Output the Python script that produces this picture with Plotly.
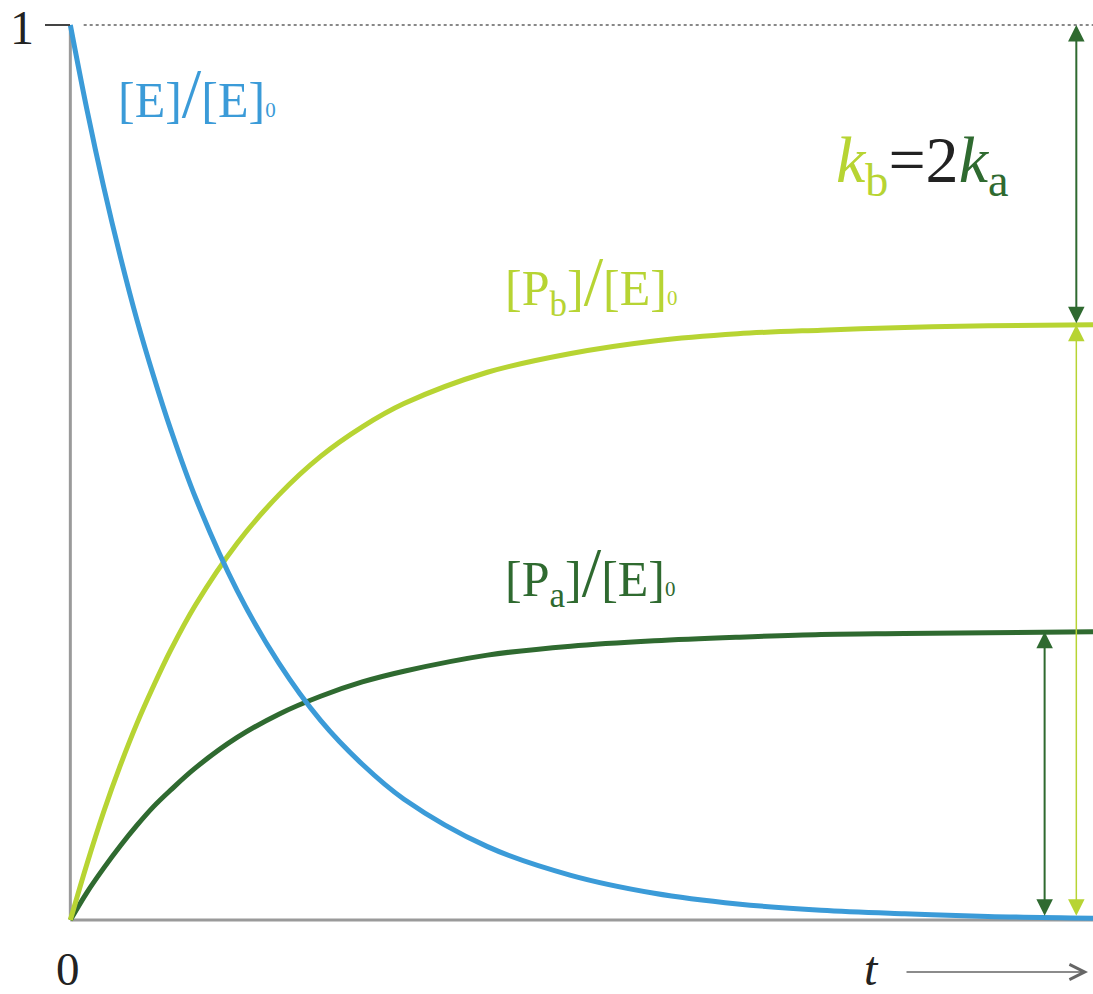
import plotly.graph_objects as go

# time axis (arbitrary units, k_total * t)
t = [0, 0.1, 0.2, 0.3, 0.4, 0.5, 0.6, 0.75, 1.0, 1.25, 1.5, 1.75, 2.0, 2.5, 3.0, 3.5, 4.0, 4.5, 5.0, 5.5, 6.13]
# [E]/[E]0
e_frac = [1.0, 0.905, 0.819, 0.741, 0.670, 0.607, 0.549, 0.472, 0.368, 0.287, 0.223, 0.174, 0.135, 0.082, 0.050, 0.030, 0.018, 0.011, 0.007, 0.004, 0.002]
# [Pb]/[E]0
pb_frac = [0.0, 0.063, 0.121, 0.173, 0.220, 0.262, 0.301, 0.352, 0.421, 0.475, 0.518, 0.551, 0.577, 0.612, 0.633, 0.647, 0.655, 0.659, 0.662, 0.664, 0.665]
# [Pa]/[E]0
pa_frac = [0.0, 0.031, 0.058, 0.083, 0.106, 0.127, 0.145, 0.170, 0.204, 0.230, 0.250, 0.266, 0.278, 0.296, 0.306, 0.312, 0.316, 0.319, 0.320, 0.321, 0.322]

BLUE = "#3b9bd8"
LIGHT = "#b7d433"
DARK = "#2f6a30"
GRAY = "#9a9a9a"
SERIF = "Liberation Serif"

# plot-area geometry in pixels (for paper-coordinate conversion)
L, R, T, B = 67, 1093, 16, 929
def px(x):
    return (x - L) / (R - L)
def py(y):
    return (B - y) / (B - T)

fig = go.Figure()
for ys, col in [(pa_frac, DARK), (pb_frac, LIGHT), (e_frac, BLUE)]:
    fig.add_trace(go.Scatter(x=t, y=ys, mode="lines", line=dict(color=col, width=5, shape="spline"),
                             showlegend=False, hoverinfo="skip"))

shapes = [
    dict(type="line", x0=0.08, x1=6.13, y0=1, y1=1, line=dict(color="#888", width=2, dash="dot"), layer="below"),
    dict(type="line", x0=0, x1=0, y0=0, y1=1, line=dict(color=GRAY, width=3), layer="below"),
    dict(type="line", x0=0, x1=6.13, y0=0, y1=0, line=dict(color=GRAY, width=3), layer="below"),
    dict(type="line", xref="paper", yref="paper", x0=px(45), x1=px(70), y0=py(25), y1=py(25),
         line=dict(color="#444", width=2)),
]
fig.update_layout(shapes=shapes)

anns = []
def arrow(x, y0, y1, col, w):
    anns.append(dict(x=x, y=y1, ax=x, ay=y0, xref="x", yref="y", axref="x", ayref="y", text="",
                     showarrow=True, arrowhead=2, startarrowhead=2, arrowside="end+start",
                     arrowsize=3.3 / w, startarrowsize=3.3 / w, arrowwidth=w, arrowcolor=col))

arrow(6.03, 0.665, 1.0, DARK, 2)
arrow(6.03, 0.003, 0.665, LIGHT, 1.5)
arrow(5.84, 0.003, 0.322, DARK, 2)

SL = "<span style='font-size:70px'>/</span>"
Z = "<span style='font-size:21px'>0</span>"

def label(x, y, txt, size, anchor="left", col="#222"):
    anns.append(dict(x=px(x), y=py(y), xref="paper", yref="paper", text=txt, showarrow=False,
                     xanchor=anchor, yanchor="middle",
                     font=dict(family=SERIF, size=size, color=col)))

label(116, 93, f"[E]{SL}[E]{Z}", 50, col=BLUE)
label(503, 284, f"[P<sub>b</sub>]{SL}[E]{Z}", 50, col=LIGHT)
label(503, 574, f"[P<sub>a</sub>]{SL}[E]{Z}", 50, col=DARK)
label(834, 164, f"<span style='color:{LIGHT}'><i>k</i><sub>b</sub></span>=2<span style='color:{DARK}'><i>k</i><sub>a</sub></span>", 66)
label(22, 28, "1", 48, anchor="center")
label(68, 969, "0", 47, anchor="center")
label(871, 968, "<i>t</i>", 48, anchor="center")
anns.append(dict(x=px(1088), y=py(972), ax=-183, ay=0, xref="paper", yref="paper",
                 axref="pixel", ayref="pixel", text="",
                 showarrow=True, arrowhead=5, arrowsize=2, arrowwidth=1.5, arrowcolor="#666"))
fig.update_layout(annotations=anns)

fig.update_layout(
    width=1093, height=994,
    margin=dict(l=L, r=1093 - R, t=T, b=994 - B),
    plot_bgcolor="white", paper_bgcolor="white",
    xaxis=dict(range=[-0.02, 6.13], visible=False, fixedrange=True),
    yaxis=dict(range=[-0.01, 1.01], visible=False, fixedrange=True),
)

fig.write_html("out.html", config={"displayModeBar": False},
               post_script="document.body.style.margin='0';")
